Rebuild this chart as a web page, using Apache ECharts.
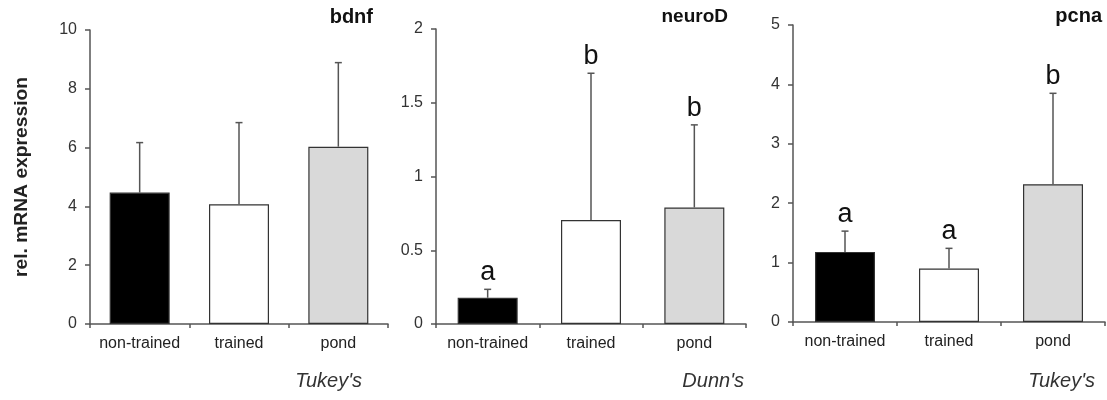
<!DOCTYPE html>
<html>
<head>
<meta charset="utf-8">
<script src="https://cdn.jsdelivr.net/npm/echarts@6/dist/echarts.min.js"></script>
<style>
html,body{margin:0;padding:0;background:#fff;}
#chart{width:1107px;height:400px;}
</style>
</head>
<body>
<div id="chart"></div>
<script>
// ---- data ----
const categories = ['non-trained', 'trained', 'pond'];
const barColors = ['#000000', '#ffffff', '#d9d9d9'];

const bdnfMean = [4.47, 4.07, 6.03];
const bdnfSD = [1.70, 2.78, 2.86];
const bdnfLetters = ['', '', ''];

const neuroMean = [0.178, 0.705, 0.79];
const neuroSD = [0.057, 0.995, 0.56];
const neuroLetters = ['a', 'b', 'b'];

const pcnaMean = [1.18, 0.90, 2.32];
const pcnaSD = [0.35, 0.34, 1.53];
const pcnaLetters = ['a', 'a', 'b'];

const panelTitles = ['bdnf', 'neuroD', 'pcna'];
const testNames = ["Tukey's", "Dunn's", "Tukey's"];
const yMax = [10, 2, 5];
const yInterval = [2, 0.5, 1];
const yLabel = 'rel. mRNA expression';

// ---- build ----
const FONT = '"Liberation Sans", Arial, sans-serif';
const panels = [
  {mean: bdnfMean, sd: bdnfSD, letters: bdnfLetters},
  {mean: neuroMean, sd: neuroSD, letters: neuroLetters},
  {mean: pcnaMean, sd: pcnaSD, letters: pcnaLetters}
];
const grids = [
  {left: 90, top: 30, width: 298, height: 294},
  {left: 436, top: 29, width: 310, height: 295},
  {left: 793, top: 25, width: 312, height: 297}
];

const xAxes = [], yAxes = [], series = [];
panels.forEach((p, g) => {
  xAxes.push({
    type: 'category', gridIndex: g, data: categories, boundaryGap: true,
    axisLine: {show: true, lineStyle: {color: '#555', width: 1.5}},
    axisTick: {show: true, length: 4, interval: 0, alignWithLabel: false, lineStyle: {color: '#555', width: 1.5}},
    axisLabel: {color: '#222', fontSize: 16, fontFamily: FONT, margin: 12, interval: 0}
  });
  yAxes.push({
    type: 'value', gridIndex: g, min: 0, max: yMax[g], interval: yInterval[g],
    splitLine: {show: false},
    axisLine: {show: true, lineStyle: {color: '#555', width: 1.5}},
    axisTick: {show: true, length: 5, lineStyle: {color: '#555', width: 1.5}},
    axisLabel: {color: '#333', fontSize: 16, fontFamily: FONT, margin: 13}
  });
  series.push({
    type: 'bar', xAxisIndex: g, yAxisIndex: g, barWidth: 60,
    data: p.mean.map((v, i) => ({
      value: v,
      itemStyle: {color: barColors[i], borderColor: '#333', borderWidth: 1.2}
    })),
    z: 2
  });
  series.push({
    type: 'custom', xAxisIndex: g, yAxisIndex: g, z: 5,
    data: p.mean.map((v, i) => [i, v, v + p.sd[i]]),
    renderItem: function (params, api) {
      const base = api.coord([api.value(0), api.value(1)]);
      const top = api.coord([api.value(0), api.value(2)]);
      const x = base[0];
      const children = [
        {type: 'line', shape: {x1: x, y1: base[1], x2: x, y2: top[1]},
         style: {stroke: '#555', lineWidth: 1.5}},
        {type: 'line', shape: {x1: x - 3.5, y1: top[1], x2: x + 3.5, y2: top[1]},
         style: {stroke: '#555', lineWidth: 1.5}}
      ];
      const letter = p.letters[params.dataIndex];
      if (letter) {
        children.push({type: 'text', style: {
          text: letter, x: x, y: top[1] - 3, align: 'center', verticalAlign: 'bottom',
          fontSize: 27, fontFamily: FONT, fill: '#111'
        }});
      }
      return {type: 'group', children: children};
    }
  });
});

const titleRight = [729, 374, 0];
const titleTop = [2, 2, 1];
const titleSize = [20, 19, 20];
const titles = panelTitles.map((t, i) => ({
  text: t, right: titleRight[i], top: titleTop[i],
  textStyle: {fontSize: titleSize[i], fontWeight: 'bold', fontFamily: FONT, color: '#111'}
}));

const testX = [362, 744, 1095];
const graphics = testNames.map((t, i) => ({
  type: 'text', x: testX[i], y: 381,
  style: {text: t, align: 'right', verticalAlign: 'middle', fontSize: 20,
          fontStyle: 'italic', fontFamily: FONT, fill: '#333'}
}));
graphics.push({
  type: 'text', x: 22, y: 177, rotation: Math.PI / 2, scaleX: 1.07,
  style: {text: yLabel, align: 'center', verticalAlign: 'middle', fontSize: 18,
          fontWeight: 'bold', fontFamily: FONT, fill: '#222'}
});

const chart = echarts.init(document.getElementById('chart'), null, {renderer: 'canvas'});
chart.setOption({
  animation: false,
  backgroundColor: '#ffffff',
  title: titles,
  grid: grids,
  xAxis: xAxes,
  yAxis: yAxes,
  series: series,
  graphic: graphics
});
</script>
</body>
</html>
